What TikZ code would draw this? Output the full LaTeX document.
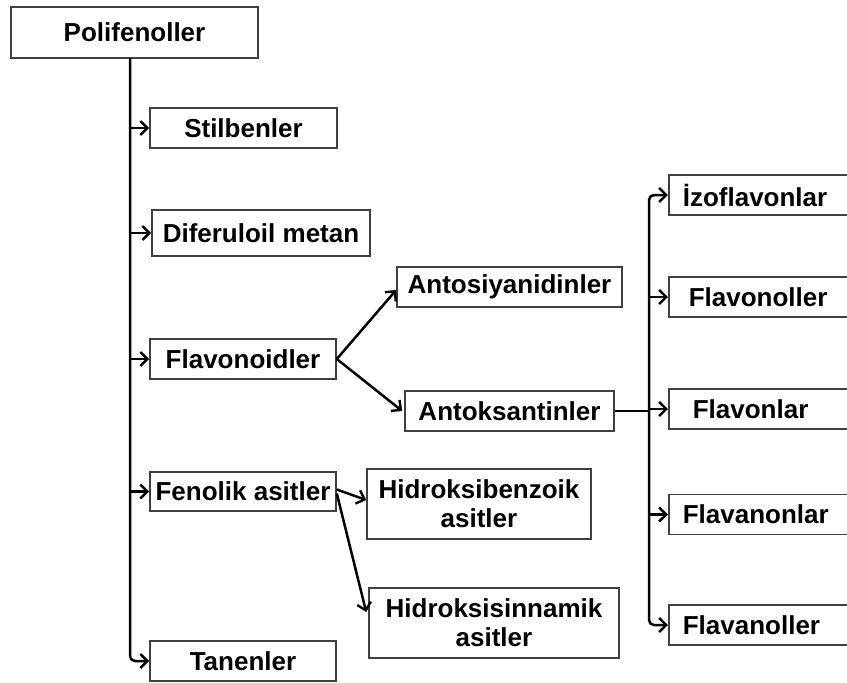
\documentclass[tikz,border=0pt]{standalone}
\usepackage{fontspec}
\setmainfont{Liberation Sans}
\usetikzlibrary{arrows.meta,positioning,calc}

\begin{document}
\begin{tikzpicture}[x=0.5pt, y=-0.5pt,
		>={Straight Barb[length=3.6pt,width=7pt,line width=1.2pt]},
		kutu/.style={draw=black!75, line width=0.8pt, inner sep=0pt,
			font=\fontsize{13}{14.5}\selectfont\bfseries, align=center, minimum height=20pt},
		yaprak/.style={kutu, anchor=west, minimum width=120pt, text width=106pt, align=left, inner xsep=7pt},
		ok/.style={->, line width=1.25pt, black}]

		\useasboundingbox (0,0) rectangle (847,682);
		\clip (0,0) rectangle (847,682);

		% trunk lines
		\coordinate (trunk) at (130,58);
		\coordinate (rtrunk) at (649,58);

		% left column
		\node[kutu, minimum width=123.5pt, minimum height=25.5pt] (poli) at (134.5,32.5) {Polifenoller};
		\node[kutu, minimum width=93.5pt] (stil) at (243.5,128) {Stilbenler};
		\node[kutu, minimum width=109pt, minimum height=23pt] (difer) at (261,233) {Diferuloil metan};
		\node[kutu, minimum width=93pt] (flavd) at (243,359) {Flavonoidler};
		\node[kutu, minimum width=93pt, minimum height=19.5pt] (fenol) at (243,491.5) {Fenolik asitler};
		\node[kutu, minimum width=93pt] (tanen) at (243,661) {Tanenler};

		% middle column
		\node[kutu, minimum width=112.5pt] (antos) at (509.5,287) {Antosiyanidinler};
		\node[kutu, minimum width=104.5pt] (antok) at (509.5,411) {Antoksantinler};
		\node[kutu, minimum width=112pt, minimum height=35pt] (hbenz) at (479,504) {Hidroksibenzoik\\asitler};
		\node[kutu, minimum width=125pt, minimum height=35pt] (hsinn) at (494,623) {Hidroksisinnamik\\asitler};

		% right column
		\node[yaprak] (izo) at (668,195) {İzoflavonlar};
		\node[yaprak] (flnol) at (668,297) {\hspace*{3pt}Flavonoller};
		\node[yaprak] (flon) at (668,409) {\hspace*{5pt}Flavonlar};
		\node[yaprak] (flnon) at (668,514.5) {Flavanonlar};
		\node[yaprak] (flnl) at (668,625) {Flavanoller};

		% main trunk
		\draw[ok, rounded corners=2.5pt] (trunk) -- (trunk |- tanen.west) -- (tanen.west);
		\foreach \n in {stil,difer,flavd,fenol}
			\draw[ok] (trunk |- \n.west) -- (\n.west);

		% branches
		\draw[ok] (flavd.east) -- ($(antos.west)+(0,3)$);
		\draw[ok] (flavd.east) -- ($(antok.west)+(-2,0)$);
		\draw[ok] ($(fenol.east)+(0,-2)$) -- ($(hbenz.west)+(0,-4)$);
		\draw[ok] ($(fenol.east)+(0,2)$) -- ($(hsinn.west)+(-2,-11)$);

		% right trunk
		\draw[ok, <->, rounded corners=2.5pt] (izo.west) -- (rtrunk |- izo.west) -- (rtrunk |- flnl.west) -- (flnl.west);
		\draw[line width=1.25pt] (antok.east) -- (rtrunk |- antok.east);
		\foreach \n in {flnol,flon,flnon}
			\draw[ok] (rtrunk |- \n.west) -- (\n.west);

	\end{tikzpicture}
\end{document}
